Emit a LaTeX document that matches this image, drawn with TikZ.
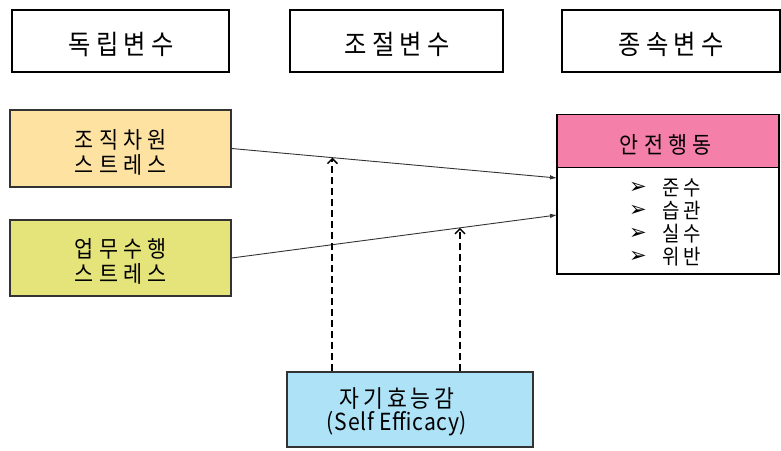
\documentclass[tikz,border=0pt]{standalone}
\usepackage{fontspec}
\setmainfont[FakeStretch=0.9]{Noto Sans CJK KR}
\newfontfamily\symfont{DejaVu Sans}
\usetikzlibrary{arrows.meta,calc}
\definecolor{stressA}{HTML}{FDE2A2}
\definecolor{stressB}{HTML}{E4E47A}
\definecolor{safehead}{HTML}{F47FA9}
\definecolor{effbox}{HTML}{AEE3F7}
\definecolor{edgegray}{HTML}{333333}
\newcommand{\spaced}[1]{\addfontfeature{LetterSpace=#1}}
\tikzset{
  headbox/.style={draw=black, line width=2.2pt, minimum width=#1, minimum height=62pt, inner sep=0pt},
  headtext/.style={inner sep=0pt, font=\fontsize{27}{30}\selectfont\spaced{19}},
  varbox/.style={draw=edgegray, line width=1.2pt, inner sep=0pt},
  vartext/.style={inner sep=0pt, align=center, font=\fontsize{23}{25}\selectfont\spaced{23}},
  effect/.style={draw=edgegray, line width=0.9pt, -{Latex[length=7pt,width=4.5pt]}},
  moder/.style={draw=black, line width=2pt, dash pattern=on 7pt off 4pt, -{Straight Barb[length=5pt,width=10pt,line width=1.5pt]}}
}
\begin{document}
\begin{tikzpicture}[x=1pt,y=-1pt]
\useasboundingbox (0,0) rectangle (781,450);

% column headings
\node[headbox=217pt] (hIndep) at (120.5,41) {};
\node[headbox=213pt] (hModer) at (396.5,41) {};
\node[headbox=218pt] (hDep) at (671,41) {};
\node[headtext] (tIndep) at (121,44) {독립변수};
\node[headtext] (tModer) at (397,44) {조절변수};
\node[headtext] (tDep) at (671,44) {종속변수};

% independent variables
\node[varbox, fill=stressA, minimum width=221pt, minimum height=77pt] (org) at (120.5,148.5) {};
\node[vartext] (orgText) at (121,152) {조직차원\\스트레스};
\node[varbox, fill=stressB, minimum width=221pt, minimum height=76pt] (task) at (120.5,258) {};
\node[vartext] (taskText) at (121,261) {업무수행\\스트레스};

% dependent variable
\node[draw=black, line width=2pt, minimum width=222pt, minimum height=159pt, inner sep=0pt] (safe) at (668,194.5) {};
\node[fill=safehead, minimum width=220pt, minimum height=52pt, inner sep=0pt, anchor=north] (safeTitle) at ($(safe.north)+(0,1)$) {};
\node[vartext] (safeTitleText) at (666,145) {안전행동};
\draw[line width=1pt] (safeTitle.south west) -- (safeTitle.south east);
\foreach \name/\word/\yy in {iA/준수/188, iB/습관/211, iC/실수/234, iD/위반/257}{
  \node[inner sep=0pt, font=\symfont\fontsize{21}{22}\selectfont] (\name mark) at (638,\yy) {➢};
  \node[inner sep=0pt, anchor=west, font=\fontsize{21}{22}\selectfont\spaced{20}] (\name) at (662,\yy) {\word};
}

% moderator
\node[varbox, fill=effbox, minimum width=246pt, minimum height=75pt] (self) at (410,409.5) {};
\node[inner sep=0pt, align=center, font=\fontsize{24}{23}\selectfont] (selfText) at (397,412)
  {{\spaced{16}자기효능감}\\{\fontsize{23.5}{23}\selectfont\spaced{3}(Self Efficacy)}};

% main effects
\coordinate (inA) at (557,178);
\coordinate (inB) at (557,215);
\draw[effect] (org.east) -- (inA);
\draw[effect] (task.east) -- (inB);

% moderating effects
\coordinate (mA) at ($(org.east)!0.31!(inA)$);
\coordinate (mB) at ($(task.east)!0.702!(inB)$);
\draw[moder] (mA |- self.north) -- (mA);
\draw[moder] (mB |- self.north) -- (mB);
\end{tikzpicture}
\end{document}
